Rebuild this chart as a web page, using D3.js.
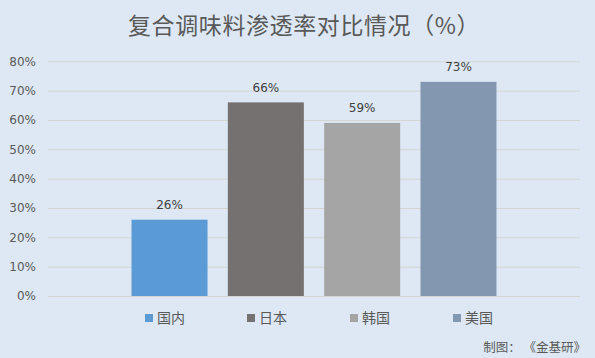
<!DOCTYPE html>
<html><head><meta charset="utf-8">
<script src="https://cdn.jsdelivr.net/npm/d3@7"></script>
<style>body{margin:0;background:#dde8f4;}svg{display:block;}</style>
</head><body>
<svg id="c" width="595" height="358"></svg>
<script>
const series = ["国内", "日本", "韩国", "美国"];
const values = [26, 66, 59, 73];
const colors = ["#5b9bd5", "#767171", "#a5a5a5", "#8497b0"];
const yTicks = [0, 10, 20, 30, 40, 50, 60, 70, 80];
const title = "复合调味料渗透率对比情况（%）";
const credit = "制图： 《金基研》";

(function () {
const W = 595, H = 358;
const svg = d3.select("#c");
svg.append("rect").attr("width", W).attr("height", H).attr("fill", "#dde8f4");

const pL = 48, pR = 580, pT = 61.3, pB = 296;
const y = d3.scaleLinear().domain([0, 80]).range([pB, pT]);
const x = d3.scaleBand().domain(series).range([pL, pR]).paddingInner(0.211).paddingOuter(0.867);

const cjk = "'Noto Sans CJK SC','Noto Sans',sans-serif";
const num = "'DejaVu Sans',Verdana,sans-serif";

svg.append("text").attr("x", 128).attr("y", 33.5).attr("text-anchor", "start")
  .attr("font-family", cjk).attr("font-size", 23).attr("letter-spacing", 0.6).attr("fill", "#595959").text(title);

const yAxis = d3.axisLeft(y).tickValues(yTicks).tickSize(-(pR - pL)).tickFormat(d => d + "%");
const ga = svg.append("g").attr("transform", `translate(${pL},0)`).call(yAxis);
ga.select(".domain").remove();
ga.selectAll(".tick line").attr("stroke", "#d4d4d4").attr("stroke-width", 1);
ga.selectAll(".tick text").attr("x", -12).attr("font-family", num).attr("font-size", 12).attr("fill", "#595959");

svg.selectAll("rect.bar").data(series).enter().append("rect").attr("class", "bar")
  .attr("x", d => x(d)).attr("width", x.bandwidth())
  .attr("y", (d, i) => y(values[i])).attr("height", (d, i) => pB - y(values[i]))
  .attr("fill", (d, i) => colors[i]);

svg.selectAll("text.lbl").data(series).enter().append("text").attr("class", "lbl")
  .attr("x", d => x(d) + x.bandwidth() / 2).attr("y", (d, i) => y(values[i]) - 10.5)
  .attr("text-anchor", "middle").attr("font-family", num).attr("font-size", 12).attr("fill", "#404040")
  .text((d, i) => values[i] + "%");

const legX = [145, 247, 350, 453];
const lg = svg.selectAll("g.leg").data(series).enter().append("g").attr("class", "leg")
  .attr("transform", (d, i) => `translate(${legX[i]},318)`);
lg.append("rect").attr("x", 0).attr("y", -4).attr("width", 8).attr("height", 8).attr("fill", (d, i) => colors[i]);
lg.append("text").attr("x", 12).attr("y", 5).attr("font-family", cjk).attr("font-size", 14).attr("fill", "#595959").text(d => d);

svg.append("text").attr("x", 586).attr("y", 351.5).attr("text-anchor", "end")
  .attr("font-family", cjk).attr("font-size", 12.5).attr("fill", "#595959")
  .style("white-space", "pre").text(credit);
})();
</script>
</body></html>
